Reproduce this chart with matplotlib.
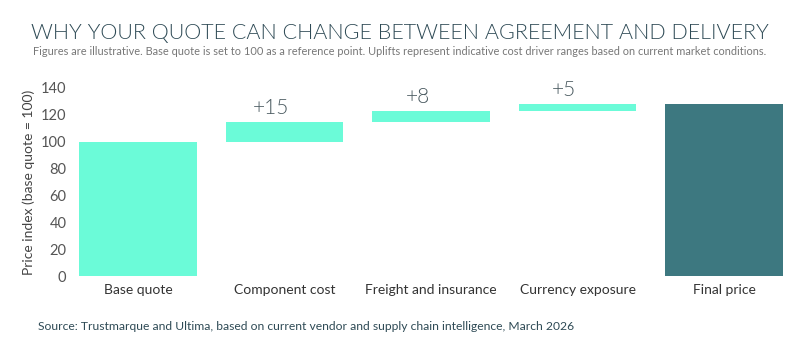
import matplotlib.pyplot as plt

plt.rcParams['font.family'] = ['Lato', 'DejaVu Sans']

# ---------------- DATA ----------------
categories = ["Base quote", "Component cost", "Freight and insurance",
              "Currency exposure", "Final price"]
base_value = 100
uplifts = [15, 8, 5]
uplift_labels = ["+15", "+8", "+5"]

title = "WHY YOUR QUOTE CAN CHANGE BETWEEN AGREEMENT AND DELIVERY"
subtitle = ("Figures are illustrative. Base quote is set to 100 as a reference point. "
            "Uplifts represent indicative cost driver ranges based on current market conditions.")
source = "Source: Trustmarque and Ultima, based on current vendor and supply chain intelligence, March 2026"

mint = "#6BFBD8"
teal = "#3D7880"
dark = "#2E4A55"

# ---------------- WATERFALL ----------------
bottoms = [0]
heights = [base_value]
running = base_value
for u in uplifts:
    bottoms.append(running)
    heights.append(u)
    running += u
bottoms.append(0)
heights.append(running)
colors = [mint] * (len(categories) - 1) + [teal]

fig = plt.figure(figsize=(8, 3.5), dpi=100)
ax = fig.add_axes([0.09, 0.2114, 0.8975, 0.5372])

x = list(range(len(categories)))
ax.bar(x, heights, bottom=bottoms, width=0.8, color=colors)

for i, (lab, b, h) in enumerate(zip(uplift_labels, bottoms[1:-1], heights[1:-1])):
    ax.text(i + 1 - 0.09, b + h + 3, lab, ha="center", va="bottom",
            fontsize=15, color="#4A5A60", fontweight=300)

ax.set_xlim(-0.45, 4.45)
ax.set_ylim(0, 140)
ax.set_yticks(range(0, 141, 20))
ax.set_xticks(x)
ax.set_xticklabels(categories, fontsize=10, color="#333333")
ax.tick_params(axis="y", labelsize=10.5, colors="#555555", length=0, pad=4)
ax.tick_params(axis="x", length=0, pad=6)
for s in ax.spines.values():
    s.set_visible(False)
ax.set_ylabel("Price index (base quote = 100)", fontsize=10, color="#444444", labelpad=4)

fig.text(0.5, 0.905, title, ha="center", va="center", fontsize=15.5,
         color=dark, fontweight=300)
fig.text(0.5, 0.853, subtitle, ha="center", va="center", fontsize=7.9,
         color="#777777")
fig.text(0.047, 0.066, source, ha="left", va="center", fontsize=8.7,
         color=dark)

fig.savefig("out.png", dpi=100)
